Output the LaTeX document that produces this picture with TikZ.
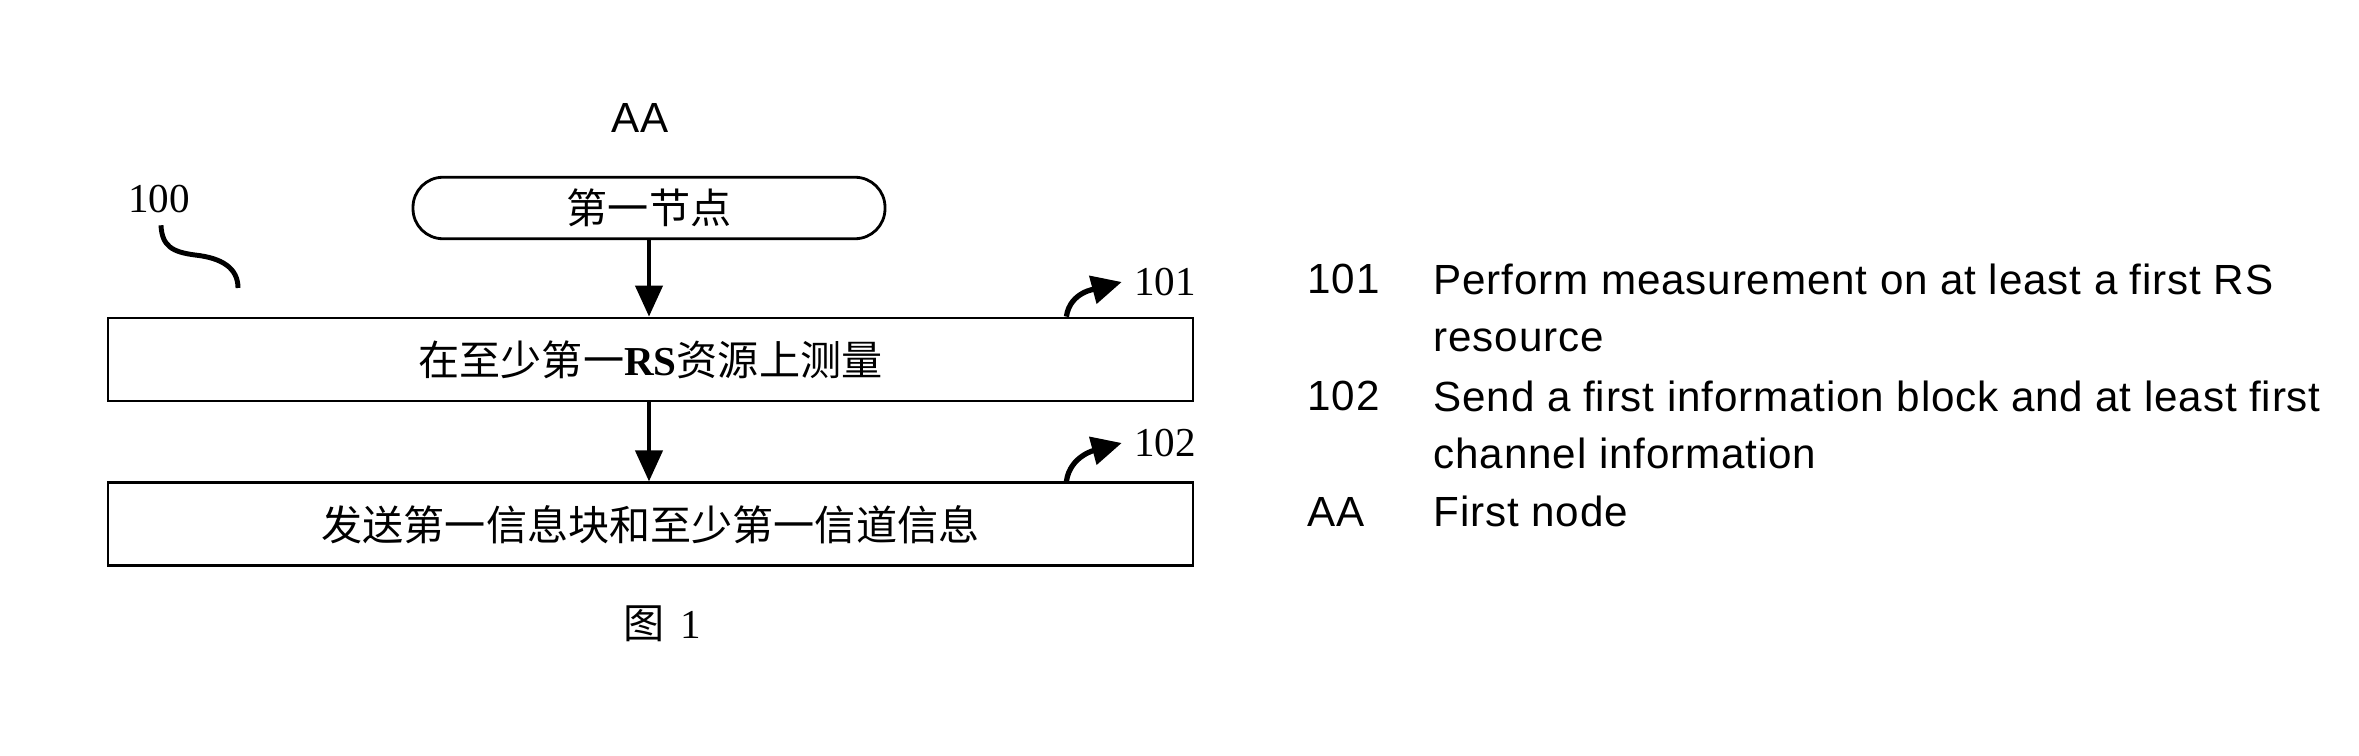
\documentclass[tikz,border=0pt]{standalone}
\usepackage{fontspec}
\usepackage{tikz}
\usetikzlibrary{positioning, arrows.meta, calc}
\setmainfont{Liberation Serif}
\newfontfamily\cjk{Noto Sans CJK SC}
\newfontfamily\tnr{Liberation Serif}
\newfontfamily\sansfnt[LetterSpace=2]{Liberation Sans}
\newcommand{\cjkfont}{\cjk\fontsize{11.7}{14}\selectfont}
\newcommand{\numfont}{\tnr\fontsize{11.7}{14}\selectfont}
\newcommand{\legfont}{\sansfnt\fontsize{12}{16.4}\selectfont}

\begin{document}
\begin{tikzpicture}[x=0.1mm, y=-0.1mm,
  termbox/.style={draw, line width=0.8pt, rounded corners=3mm, minimum width=47.2mm, minimum height=6mm, font=\cjkfont},
  stepbox/.style={draw, line width=0.8pt, minimum width=108.5mm, minimum height=8.3mm, font=\cjkfont},
  flow/.style={-{Triangle[length=3.1mm, width=2.7mm]}, line width=1.2pt},
  refarr/.style={-{Triangle[length=3mm, width=2.8mm]}, line width=1.5pt},
  num/.style={font=\numfont},
  key/.style={font=\legfont, anchor=base west, inner sep=0pt},
  desc/.style={font=\legfont, anchor=base west, align=left, inner sep=0pt}]
\useasboundingbox (0,0) rectangle (2359,756);
% flow chart
\node[font=\legfont] (aa) at (640,118) {AA};
\node[termbox] (first) at (649,208) {第一节点};
\node[stepbox] (s101) at (650.5,359.5) {在至少第一{\tnr\bfseries RS}资源上测量};
\node[stepbox, below=7.9mm of s101] (s102) {发送第一信息块和至少第一信道信息};
\draw[flow] (first.south) -- (first.south |- s101.north);
\draw[flow] (s101.south -| first.south) -- (first.south |- s102.north);
% reference numerals
\node[num] (n100) at (159,199) {100};
\coordinate (c100) at (238,288);
\draw[line width=1.4pt] ([xshift=0.2mm]n100.south) .. controls (162,246) and (172,252) .. (195,255) .. controls (222,258) and (238,268) .. (c100);
\node[num] (n101) at (1165,282) {101};
\node[num] (n102) at (1165,443) {102};
\draw[refarr] ([xshift=-12.8mm]s101.north east) to[out=82, in=195] (n101.west);
\draw[refarr] ([xshift=-12.8mm]s102.north east) to[out=82, in=195] (n102.west);
\node (fig) at (662,624) {{\cjkfont 图}\hspace{1.6mm}{\numfont 1}};
% legend (multi-line text sits on its last baseline)
\node[key] (k101) at (1307,294) {101};
\node[desc] (d101) at (1433,352) {Perform measurement on at least a first RS\\resource};
\node[key] (k102) at (1307,411) {102};
\node[desc] (d102) at (1433,469) {Send a first information block and at least first\\channel information};
\node[key] (kaa) at (1307,527) {AA};
\node[desc] (daa) at (1433,527) {First node};
\end{tikzpicture}
\end{document}
